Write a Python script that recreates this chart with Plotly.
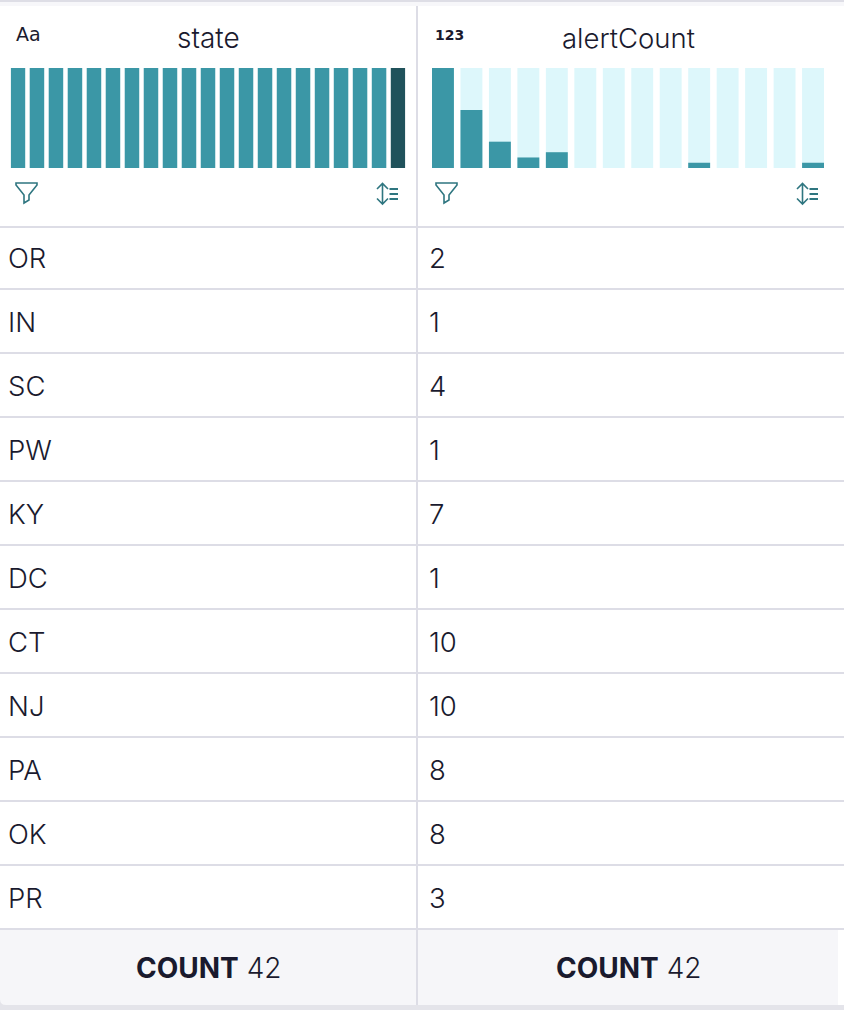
import plotly.graph_objects as go

W, H = 844, 1010

states = ["OR", "IN", "SC", "PW", "KY", "DC", "CT", "NJ", "PA", "OK", "PR"]
alert_counts = [2, 1, 4, 1, 7, 1, 10, 10, 8, 8, 3]
columns = ["state", "alertCount"]
footer_label = "COUNT"
footer_value = 42

# column header histograms
state_bins = list(range(21))
state_hist = [2] * 21
alert_bins = list(range(14))
alert_hist = [19, 11, 5, 2, 3, 0, 0, 0, 0, 1, 0, 0, 0, 1]

TEAL = "#3b97a6"
DARK = "#20525b"
PALE = "#ddf7fb"
LINE = "#dddde6"
INK = "#1a1a2e"


def xdom(a, b):
    return [a / W, b / W]


def ydom(top, bottom):
    return [1 - bottom / H, 1 - top / H]


fig = go.Figure()

state_colors = [TEAL] * (len(state_bins) - 1) + [DARK]
fig.add_trace(go.Bar(x=state_bins, y=state_hist, width=0.763, marker_color=state_colors,
                     marker_line_width=0, xaxis="x2", yaxis="y2", showlegend=False))
fig.add_trace(go.Bar(x=alert_bins, y=[max(alert_hist)] * len(alert_bins), width=0.77,
                     marker_color=PALE, marker_line_width=0, xaxis="x3", yaxis="y3", showlegend=False))
fig.add_trace(go.Bar(x=alert_bins, y=alert_hist, width=0.77, marker_color=TEAL,
                     marker_line_width=0, xaxis="x3", yaxis="y3", showlegend=False))

shapes = []


def rect(x0, y0, x1, y1, color):
    shapes.append(dict(type="rect", xref="x", yref="y", x0=x0, y0=y0, x1=x1, y1=y1,
                       fillcolor=color, line_width=0, layer="below"))


def hline(y, x0=0, x1=W):
    shapes.append(dict(type="line", xref="x", yref="y", x0=x0, x1=x1, y0=y, y1=y,
                       line=dict(color=LINE, width=2), layer="above"))


# page strips and footer band
rect(0, 0, W, 2, "#dedee6")
rect(0, 2, W, 6, "#f7f7fa")
rect(0, 1000, 8, 1010, "#e4e4ea")
rect(8, 1005, W, 1010, "#e4e4ea")
# footer has a rounded bottom left corner
shapes.append(dict(type="path", xref="x", yref="y", fillcolor="#f6f6f9", line_width=0, layer="below",
                   path="M 0 930 L 838 930 L 838 1005 L 6 1005 Q 0 1005 0 999 Z"))

row_top = 225
row_h = 64
hline(227)
for i in range(len(states)):
    hline(row_top + (i + 1) * row_h)
shapes.append(dict(type="line", xref="x", yref="y", x0=417, x1=417, y0=6, y1=1005,
                   line=dict(color=LINE, width=2), layer="above"))


# filter and sort icons
def funnel(x):
    return (f"M {x} 183 L {x + 21} 183 L {x + 21} 185 L {x + 13} 195 L {x + 13} 200 "
            f"L {x + 8} 203 L {x + 8} 195 L {x} 185 Z")


def sort_icon(x):
    return (f"M {x} 189 L {x + 5.5} 183.5 L {x + 11} 189 M {x + 5.5} 183.5 L {x + 5.5} 204 "
            f"M {x} 198.5 L {x + 5.5} 204 L {x + 11} 198.5")


for fx, sx in [(16, 377), (436, 797)]:
    shapes.append(dict(type="path", xref="x", yref="y", path=funnel(fx),
                       line=dict(color="#2f7680", width=1.6)))
    shapes.append(dict(type="path", xref="x", yref="y", path=sort_icon(sx),
                       line=dict(color="#2f7680", width=1.6)))
    for ly in (189, 194, 199):
        shapes.append(dict(type="line", xref="x", yref="y", x0=sx + 12.5, x1=sx + 21, y0=ly, y1=ly,
                           line=dict(color="#2f7680", width=2)))

annotations = []


def label(x, y, text, size=27.5, anchor="left", family="Inter", color=INK, weight=300):
    annotations.append(dict(x=x, y=y, xref="x", yref="y", text=text, showarrow=False,
                            xanchor=anchor, yanchor="middle",
                            font=dict(family=family, size=size, color=color, weight=weight)))


for i, (st, cnt) in enumerate(zip(states, alert_counts)):
    cy = 258 + i * row_h
    label(5.5, cy, st)
    label(426.5, cy, str(cnt))

label(208, 38, columns[0], size=28, anchor="center")
label(628, 38, columns[1], anchor="center")
label(14, 34, "Aa", size=19, family="DejaVu Sans", weight=400)
label(433, 35, "<b>123</b>", size=14, family="DejaVu Sans", weight=400)

for cx in (208, 628):
    label(cx, 968, f"<b>{footer_label}</b> {footer_value}", size=28, anchor="center")

hidden = dict(visible=False, fixedrange=True)
fig.update_layout(
    width=W, height=H,
    margin=dict(l=0, r=0, t=0, b=0),
    autosize=False,
    paper_bgcolor="white",
    plot_bgcolor="rgba(0,0,0,0)",
    barmode="overlay",
    shapes=shapes,
    annotations=annotations,
    xaxis=dict(range=[0, W], domain=[0, 1], **hidden),
    yaxis=dict(range=[H, 0], domain=[0, 1], **hidden),
    xaxis2=dict(range=[-0.3815, 20.3815], domain=xdom(10.7, 405.3), anchor="y2", **hidden),
    yaxis2=dict(range=[0, 2], domain=ydom(68, 168), anchor="x2", **hidden),
    xaxis3=dict(range=[-0.385, 13.385], domain=xdom(432, 824), anchor="y3", **hidden),
    yaxis3=dict(range=[0, 19], domain=ydom(68, 168), anchor="x3", **hidden),
)

fig.write_html("out.html", config={"displayModeBar": False},
               post_script="document.body.style.margin='0';")
